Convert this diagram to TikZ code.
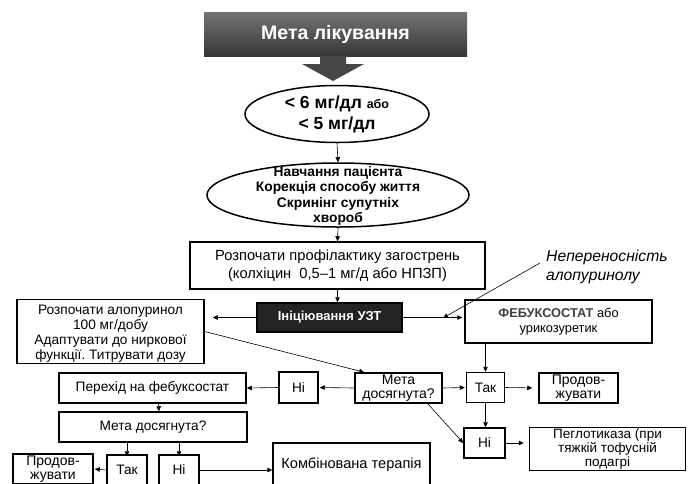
\documentclass[tikz,border=0pt]{standalone}
\usepackage{fontspec}
\setmainfont{Liberation Sans}
\usetikzlibrary{arrows.meta,shapes.geometric,calc}
\definecolor{gtop}{RGB}{115,115,115}
\definecolor{gbot}{RGB}{55,55,55}
\definecolor{garrow}{RGB}{70,70,70}
\definecolor{uzfill}{RGB}{35,35,35}
\definecolor{febtxt}{RGB}{64,64,64}
\tikzset{
  box/.style={draw, line width=1.5pt, inner sep=1pt, align=center, font=\fontsize{13.7}{15.5}\selectfont},
  oval/.style={ellipse, draw, line width=1.5pt, inner sep=0pt},
  conn/.style={line width=0.6pt, -{Triangle[length=5pt,width=4.5pt]}},
}
\frenchspacing
\begin{document}
\frenchspacing
\begin{tikzpicture}[x=1pt,y=-1pt]
\useasboundingbox (0,0) rectangle (694,483);
\clip (0,0) rectangle (694,483);
% title
\node[minimum width=263pt, minimum height=44pt, inner sep=0pt,
  top color=gtop, bottom color=gbot,
  text=white, font=\bfseries\fontsize{19.5}{22}\selectfont] (goal) at (335.5,34) {Мета лікування};
\fill[garrow] (320,56) -- (346,56) -- (346,64) -- (364,64) -- (333,81) -- (302,64) -- (320,64) -- cycle;
% ellipses
\node[oval, minimum width=184pt, minimum height=57pt] (e1) at (337,114) {};
\node[align=center, font=\bfseries\fontsize{17.5}{21}\selectfont] (e1t) at (e1) {< 6 мг/дл {\fontsize{12.5}{14}\selectfont або}\\< 5 мг/дл};
\node[oval, minimum width=262pt, minimum height=64pt] (e2) at (338,195) {};
\node[align=center, font=\bfseries\fontsize{13.8}{15.5}\selectfont] (e2t) at (338,196) {Навчання пацієнта\\Корекція способу життя\\Скринінг супутніх\\хвороб};
% boxes
\node[box, minimum width=295pt, minimum height=47pt, font=\fontsize{14.7}{17.5}\selectfont] (prof) at (337.5,265.5) {Розпочати профілактику загострень\\(колхіцин\ \ 0,5–1 мг/д або НПЗП)};
\node[box, fill=uzfill, text=white, minimum width=145pt, minimum height=29pt, font=\bfseries\fontsize{13}{15}\selectfont] (uzt) at (329.5,317.5) {Ініціювання УЗТ};
\node[box, minimum width=187pt, minimum height=63pt, font=\fontsize{13.7}{15.2}\selectfont] (allo) at (110.5,331.5) {\rule{0pt}{14pt}Розпочати алопуринол\\100 мг/добу\\Адаптувати до ниркової\\функції. Титрувати дозу};
\node[box, minimum width=187pt, minimum height=43pt, font=\fontsize{12.8}{15.5}\selectfont] (feb) at (558.5,321.5) {{\bfseries\color{febtxt}ФЕБУКСОСТАТ} або\\урикозуретик};
\node[align=left, anchor=west, inner sep=0pt, font=\itshape\fontsize{15.7}{18.5}\selectfont] (nep) at (546,267) {Непереносність\\алопуринолу};
\node[box, minimum width=87pt, minimum height=30pt, font=\fontsize{14}{14.5}\selectfont] (meta1) at (398.5,388) {Мета\\досягнута?};
\node[box, minimum width=39pt, minimum height=31pt] (ni1) at (298.5,387.5) {Ні};
\node[box, minimum width=187pt, minimum height=30pt] (per) at (152.5,388) {Перехід на фебуксостат};
\node[box, minimum width=38pt, minimum height=30pt] (tak1) at (485.5,387.5) {Так};
\node[box, minimum width=79pt, minimum height=30pt, font=\fontsize{14}{14}\selectfont] (prod1) at (578.5,388) {Продов-\\жувати};
\node[box, minimum width=41pt, minimum height=30pt] (ni2) at (484.5,443) {Ні};
\node[box, minimum width=156pt, minimum height=43pt, font=\fontsize{13.5}{12.5}\selectfont] (peg) at (607.5,449) {Пеглотиказа (при\\тяжкій тофусній\\подагрі};
\node[box, minimum width=188pt, minimum height=30pt] (meta2) at (153,427) {Мета досягнута?};
\node[box, minimum width=40pt, minimum height=30pt] (tak2) at (127,470) {Так};
\node[box, minimum width=40pt, minimum height=30pt] (ni3) at (179,470) {Ні};
\node[box, minimum width=80pt, minimum height=30pt, font=\fontsize{14}{14}\selectfont] (prod2) at (53,469) {Продов-\\жувати};
\node[box, minimum width=157pt, minimum height=44pt, font=\fontsize{14.6}{16}\selectfont] (komb) at (351.5,465) {Комбінована терапія};
% connectors
\draw[conn] (e1.south) -- (e2.north);
\draw[conn] (e2.south) -- (prof.north);
\draw[conn] (prof.south) -- (prof.south |- uzt.north);
\draw[conn, shorten >=8pt] (uzt.west) -- (uzt.west -| allo.east);
\draw[conn, shorten >=2pt] (uzt.east) -- (uzt.east -| feb.west);
\coordinate (nepA) at (540,263);
\coordinate (nepB) at (443,318);
\draw[conn] (nepA) -- (nepB);
\draw[conn] (allo.east) -- ($(meta1.north west)+(10,0)$);
\draw[conn, shorten >=1pt] (meta1.west) -- (ni1.east);
\draw[conn] (ni1.west) -- (per.east);
\draw[conn, shorten >=1pt] (meta1.east) -- (tak1.west);
\draw[conn, shorten >=6pt] (tak1.east) -- (prod1.west);
\draw[conn] (tak1.north |- feb.south) -- (tak1.north);
\draw[conn] (tak1.south) -- (tak1.south |- ni2.north);
\draw[conn] ($(meta1.south east)+(-15,0)$) -- (ni2.west);
\draw[conn, shorten >=5pt] (ni2.east) -- (peg.west |- ni2.east);
\draw[conn] ($(per.south)+(6,0)$) -- ($(meta2.north)+(6,0)$);
\draw[conn] (tak2.north |- meta2.south) -- ([yshift=-2pt]tak2.north);
\draw[conn] (ni3.north |- meta2.south) -- ([yshift=-2pt]ni3.north);
\draw[conn, shorten >=1pt] (tak2.west) -- (prod2.east);
\draw[conn] (ni3.east) -- (komb.west |- ni3.east);
\end{tikzpicture}
\end{document}
